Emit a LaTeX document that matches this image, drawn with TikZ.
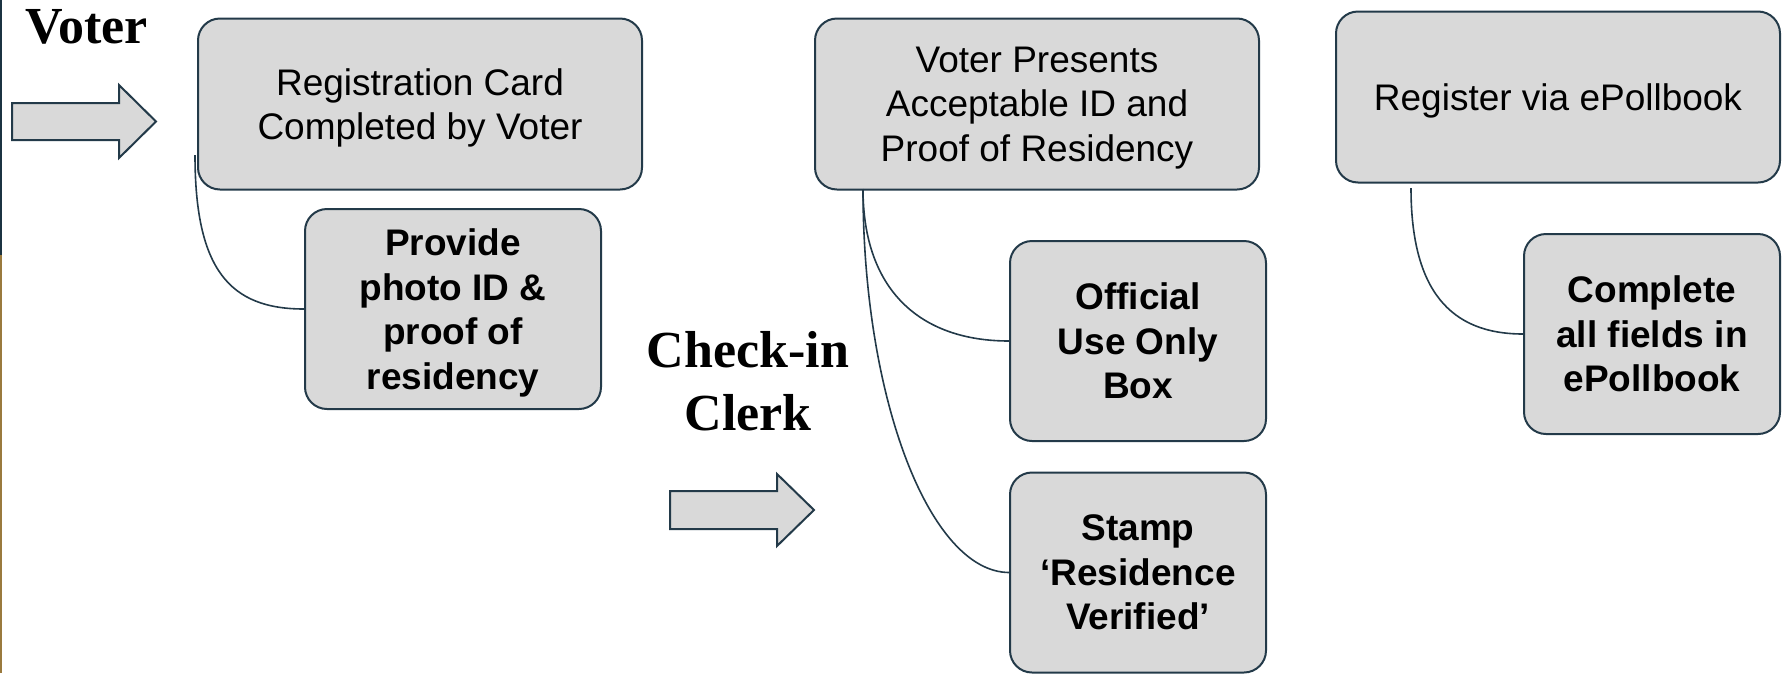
\documentclass[tikz,border=0pt]{standalone}
\usepackage{fontspec}
\setmainfont{Liberation Sans}
\newfontfamily\rolefont{Liberation Serif}
\usetikzlibrary{arrows}

\definecolor{slate}{HTML}{233A49}
\definecolor{boxgray}{HTML}{D9D9D9}
\definecolor{navyband}{HTML}{1B3341}
\definecolor{goldband}{HTML}{9A7A3E}

\tikzstyle{top_box} = [
    rounded corners=22pt,
    draw=slate,
    fill=boxgray,
    line width=2pt,
    align=center,
    minimum width=444pt,
    minimum height=171pt,
    text depth=-4pt, % sits the lines a little low, same for every box
    font=\fontsize{37}{44.5}\selectfont
]
\tikzstyle{sub_box} = [
    rounded corners=22pt,
    draw=slate,
    fill=boxgray,
    line width=2pt,
    align=center,
    minimum width=256pt,
    minimum height=200pt,
    text depth=-7pt,
    font=\fontsize{37}{44.5}\selectfont\bfseries
]
\tikzstyle{role_label} = [
    inner sep=0pt,
    align=center,
    font=\rolefont\bfseries\fontsize{52}{63}\selectfont
]
\tikzstyle{block_arrow} = [
    draw=slate,
    fill=boxgray,
    line width=2pt,
    line join=miter
]
\tikzstyle{link} = [
    draw=slate,
    line width=1.6pt
]

\begin{document}
\begin{tikzpicture}[x=1pt, y=1pt]
\useasboundingbox (0,0) rectangle (1783,-673);
% side band
\fill[navyband] (0,0) rectangle (2,-255);
\fill[goldband] (0,-255) rectangle (2,-673);

% voter side
\node [role_label, anchor=base west] (voter) at (25,-43) {Voter};
\draw [block_arrow] (12,-103) -- (119,-103) -- (119,-85) -- (156,-121.5)
    -- (119,-158) -- (119,-140) -- (12,-140) -- cycle;
\node [top_box] (card) at (420,-104) {Registration Card\\Completed by Voter};
\node [sub_box, minimum width=296pt] (photo) at (453,-309)
    {Provide\\photo ID \&\\proof of\\residency};

% clerk side
\node [role_label, anchor=north] (clerk) at (748,-331) {Check-in\\Clerk};
\draw [block_arrow] (670,-491) -- (777,-491) -- (777,-474) -- (814,-510)
    -- (777,-546) -- (777,-529) -- (670,-529) -- cycle;
\node [top_box] (presents) at (1037,-104)
    {Voter Presents\\Acceptable ID and\\Proof of Residency};
\node [sub_box] (official) at (1138,-341) {Official\\Use Only\\Box};
\node [sub_box] (stamp) at (1138,-572.5) {Stamp\\‘Residence\\Verified’};

% epollbook
\node [top_box] (register) at (1558,-97) {Register via ePollbook};
\node [sub_box] (complete) at (1652,-334) {Complete\\all fields in\\ePollbook};

% links from each step to its detail boxes
\coordinate (card_foot) at (195,-155);
\coordinate (presents_foot) at (863,-189);
\coordinate (register_foot) at (1411,-188);
\draw [link] (card_foot) .. controls (195,-270) and (230,-309) .. (photo.west);
\draw [link] (presents_foot) .. controls (863,-290) and (920,-341) .. (official.west);
\draw [link] (presents_foot) .. controls (863,-400) and (930,-572) .. (stamp.west);
\draw [link] (register_foot) .. controls (1411,-290) and (1450,-334) .. (complete.west);
\end{tikzpicture}
\end{document}
